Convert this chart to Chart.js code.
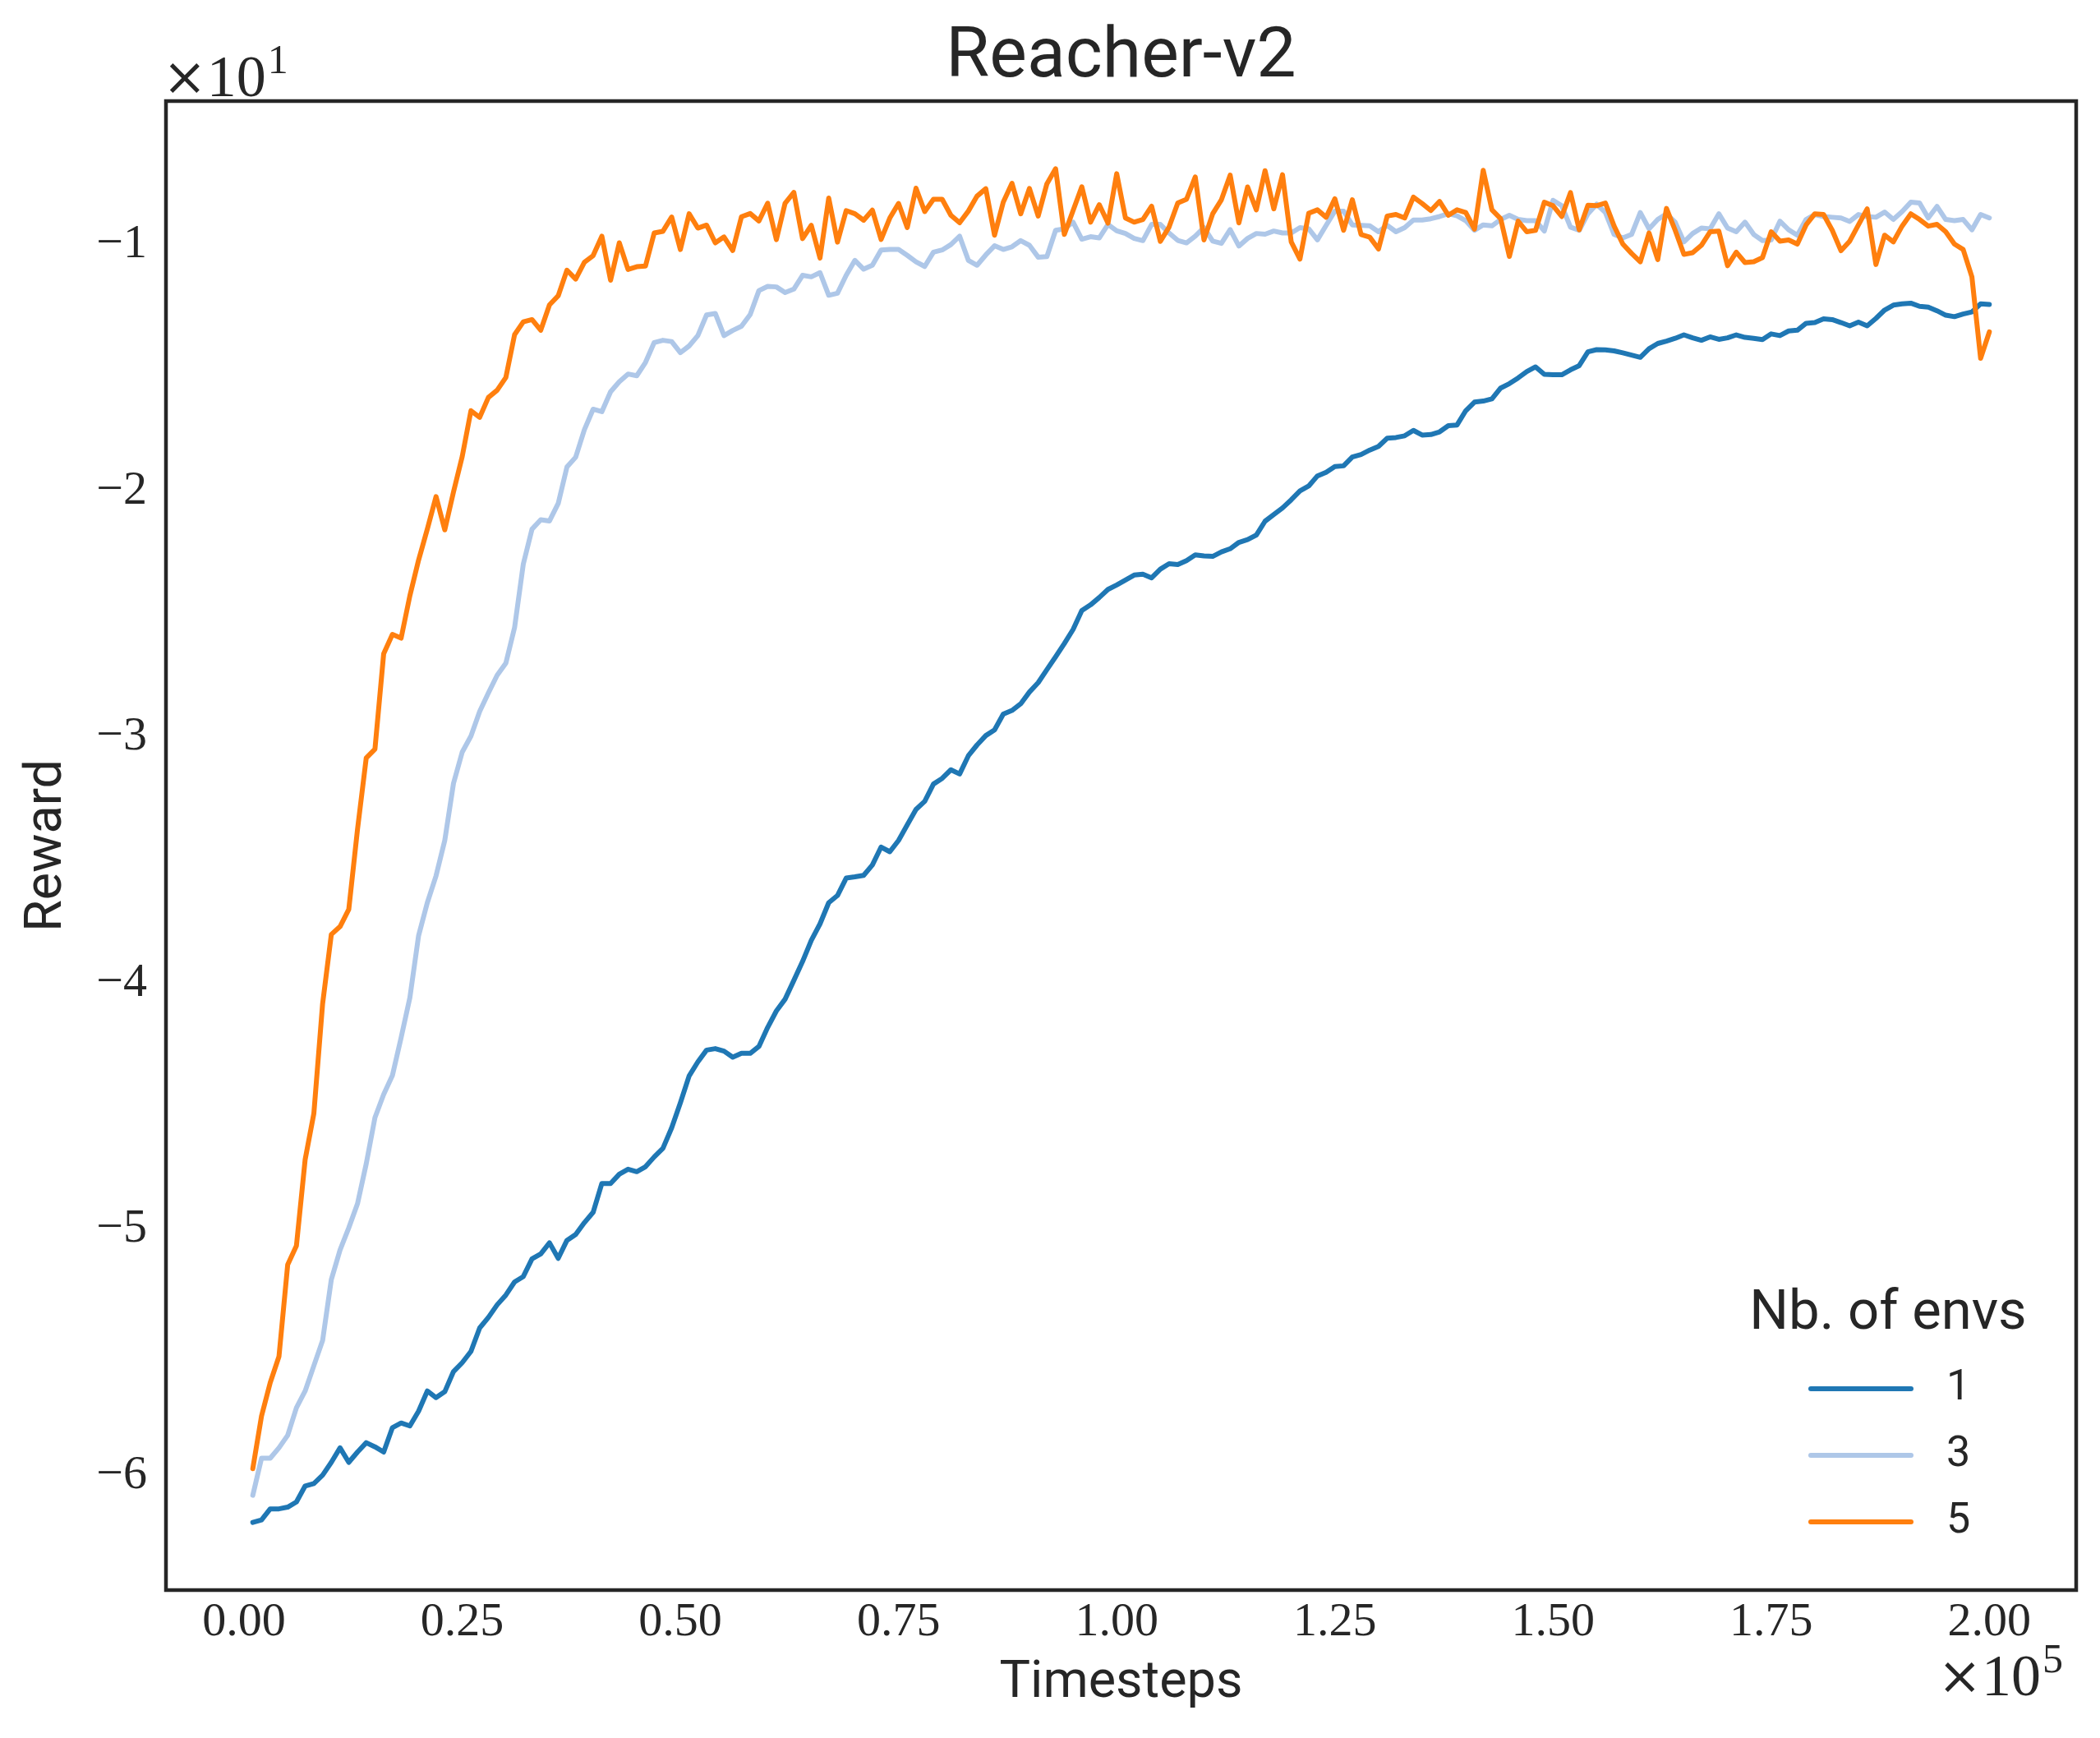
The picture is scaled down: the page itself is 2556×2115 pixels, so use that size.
<!DOCTYPE html>
<html>
<head>
<meta charset="utf-8">
<script src="https://cdn.jsdelivr.net/npm/chart.js@4.4.0/dist/chart.umd.min.js"></script>
<style>
    html, body { margin: 0; padding: 0; background: #ffffff; }
    canvas { display: block; }
</style>
</head>
<body>
<canvas id="rewardChart" width="2556" height="2115"></canvas>
<script>
// ===== DATA =====
// Reward in units of 10^1, one point every 1000 timesteps (x in units of 10^5)

const envCounts = ['1', '3', '5'];
const seriesColors = ['#1f77b4', '#aec7e8', '#ff7f0e'];

const xTickValues = [0, 0.25, 0.5, 0.75, 1.0, 1.25, 1.5, 1.75, 2.0];
const yTickValues = [-6, -5, -4, -3, -2, -1];

const reward1 = [
    -6.19, -6.18, -6.135, -6.135, -6.128, -6.107, -6.042, -6.032, -5.998, -5.946,
    -5.887, -5.946, -5.904, -5.866, -5.883, -5.904, -5.805, -5.786, -5.798, -5.738,
    -5.656, -5.683, -5.659, -5.577, -5.541, -5.495, -5.400, -5.357, -5.306, -5.266,
    -5.213, -5.191, -5.119, -5.099, -5.054, -5.117, -5.044, -5.020, -4.972, -4.930,
    -4.813, -4.813, -4.775, -4.755, -4.765, -4.745, -4.705, -4.670, -4.587, -4.485,
    -4.376, -4.319, -4.271, -4.265, -4.275, -4.300, -4.284, -4.284, -4.256, -4.179,
    -4.112, -4.064, -3.988, -3.911, -3.825, -3.758, -3.672, -3.643, -3.572, -3.567,
    -3.561, -3.519, -3.446, -3.465, -3.419, -3.356, -3.293, -3.260, -3.190, -3.167,
    -3.132, -3.149, -3.075, -3.031, -2.993, -2.970, -2.906, -2.891, -2.864, -2.816,
    -2.778, -2.725, -2.673, -2.619, -2.562, -2.485, -2.462, -2.432, -2.399, -2.381,
    -2.361, -2.341, -2.337, -2.352, -2.317, -2.295, -2.298, -2.282, -2.259, -2.263,
    -2.265, -2.247, -2.234, -2.208, -2.197, -2.178, -2.122, -2.095, -2.068, -2.035,
    -1.999, -1.979, -1.938, -1.923, -1.900, -1.897, -1.861, -1.851, -1.833, -1.818,
    -1.785, -1.782, -1.775, -1.753, -1.772, -1.770, -1.759, -1.734, -1.731, -1.673,
    -1.638, -1.634, -1.625, -1.581, -1.563, -1.540, -1.514, -1.495, -1.525, -1.527,
    -1.527, -1.507, -1.490, -1.434, -1.425, -1.426, -1.430, -1.438, -1.447, -1.456,
    -1.421, -1.400, -1.390, -1.379, -1.365, -1.377, -1.387, -1.373, -1.383, -1.377,
    -1.365, -1.375, -1.379, -1.384, -1.361, -1.368, -1.349, -1.346, -1.318, -1.315,
    -1.300, -1.303, -1.315, -1.328, -1.313, -1.328, -1.298, -1.264, -1.244, -1.239,
    -1.236, -1.249, -1.252, -1.267, -1.285, -1.291, -1.280, -1.272, -1.239, -1.241
];

const reward3 = [
    -6.080, -5.929, -5.929, -5.887, -5.836, -5.724, -5.656, -5.553, -5.451, -5.203,
    -5.083, -4.993, -4.895, -4.733, -4.545, -4.451, -4.374, -4.220, -4.058, -3.806,
    -3.672, -3.563, -3.419, -3.187, -3.060, -2.995, -2.895, -2.820, -2.748, -2.699,
    -2.554, -2.296, -2.154, -2.116, -2.121, -2.050, -1.902, -1.862, -1.750, -1.667,
    -1.677, -1.596, -1.555, -1.524, -1.531, -1.477, -1.396, -1.387, -1.392, -1.437,
    -1.410, -1.368, -1.284, -1.278, -1.368, -1.347, -1.330, -1.282, -1.185, -1.168,
    -1.170, -1.193, -1.179, -1.123, -1.129, -1.112, -1.204, -1.196, -1.123, -1.062,
    -1.098, -1.082, -1.020, -1.018, -1.018, -1.042, -1.068, -1.087, -1.029, -1.020,
    -0.998, -0.964, -1.062, -1.082, -1.040, -1.003, -1.018, -1.007, -0.982, -1.001,
    -1.049, -1.047, -0.940, -0.934, -0.907, -0.976, -0.966, -0.971, -0.916, -0.942,
    -0.953, -0.973, -0.982, -0.916, -0.916, -0.951, -0.981, -0.991, -0.964, -0.929,
    -0.984, -0.993, -0.937, -1.004, -0.973, -0.953, -0.956, -0.943, -0.951, -0.951,
    -0.929, -0.934, -0.979, -0.920, -0.862, -0.862, -0.918, -0.920, -0.922, -0.946,
    -0.920, -0.946, -0.929, -0.898, -0.898, -0.893, -0.884, -0.873, -0.881, -0.901,
    -0.940, -0.918, -0.922, -0.896, -0.879, -0.896, -0.901, -0.901, -0.943, -0.818,
    -0.840, -0.927, -0.940, -0.873, -0.834, -0.868, -0.957, -0.971, -0.957, -0.868,
    -0.934, -0.896, -0.873, -0.907, -0.987, -0.953, -0.931, -0.934, -0.873, -0.931,
    -0.946, -0.907, -0.957, -0.982, -0.979, -0.903, -0.938, -0.960, -0.896, -0.876,
    -0.884, -0.887, -0.890, -0.904, -0.876, -0.884, -0.887, -0.866, -0.896, -0.864,
    -0.826, -0.829, -0.890, -0.843, -0.896, -0.901, -0.896, -0.938, -0.876, -0.890
];

const reward5 = [
    -5.972, -5.758, -5.622, -5.516, -5.143, -5.066, -4.716, -4.528, -4.083, -3.801,
    -3.769, -3.699, -3.374, -3.084, -3.048, -2.660, -2.582, -2.597, -2.425, -2.280,
    -2.154, -2.022, -2.157, -2.003, -1.859, -1.673, -1.700, -1.619, -1.590, -1.538,
    -1.364, -1.312, -1.303, -1.346, -1.243, -1.206, -1.102, -1.138, -1.070, -1.043,
    -0.964, -1.143, -0.991, -1.099, -1.088, -1.085, -0.951, -0.944, -0.886, -1.018,
    -0.873, -0.931, -0.919, -0.991, -0.967, -1.022, -0.885, -0.872, -0.902, -0.830,
    -0.978, -0.830, -0.786, -0.974, -0.920, -1.053, -0.809, -0.988, -0.860, -0.873,
    -0.899, -0.858, -0.977, -0.890, -0.831, -0.929, -0.769, -0.864, -0.814, -0.814,
    -0.879, -0.909, -0.862, -0.801, -0.771, -0.960, -0.826, -0.749, -0.873, -0.770,
    -0.882, -0.751, -0.690, -0.957, -0.860, -0.763, -0.907, -0.836, -0.911, -0.710,
    -0.890, -0.907, -0.896, -0.842, -0.985, -0.927, -0.829, -0.814, -0.723, -0.979,
    -0.873, -0.816, -0.716, -0.910, -0.764, -0.857, -0.698, -0.853, -0.714, -0.987,
    -1.057, -0.871, -0.857, -0.887, -0.812, -0.940, -0.816, -0.957, -0.968, -1.016,
    -0.882, -0.876, -0.890, -0.805, -0.831, -0.860, -0.823, -0.879, -0.857, -0.868,
    -0.935, -0.696, -0.857, -0.893, -1.046, -0.903, -0.946, -0.940, -0.826, -0.840,
    -0.884, -0.787, -0.938, -0.838, -0.840, -0.829, -0.923, -0.996, -1.034, -1.068,
    -0.951, -1.059, -0.851, -0.940, -1.038, -1.031, -1.001, -0.946, -0.943, -1.084,
    -1.029, -1.071, -1.068, -1.051, -0.946, -0.984, -0.979, -0.996, -0.918, -0.873,
    -0.876, -0.940, -1.023, -0.984, -0.918, -0.853, -1.079, -0.960, -0.987, -0.923,
    -0.873, -0.896, -0.923, -0.916, -0.946, -0.996, -1.018, -1.129, -1.460, -1.353
];

const rewardSeries = [reward1, reward3, reward5];

// x positions: 1000 timesteps apart, expressed in units of 10^5
const timesteps = reward1.map((_, i) => (i + 1) / 100);

// ===== STYLE =====
const TEXT_COLOR = '#262626';
const SERIF = "'Liberation Serif', 'DejaVu Serif', serif";
const SANS = "Roboto, 'Noto Sans', sans-serif";

// matplotlib-like 5% margins
function paddedRange(values) {
    const lo = Math.min(...values);
    const hi = Math.max(...values);
    const pad = (hi - lo) * 0.05;
    return { min: lo - pad, max: hi + pad };
}

// "×10^n" offset text
function drawPower(ctx, x, y, exp, align) {
    const timesFont = "64px 'DejaVu Serif', serif";
    const baseFont = `72px ${SERIF}`;
    const supFont = `50px ${SERIF}`;

    ctx.font = timesFont;
    const w0 = ctx.measureText('\u00d7').width;
    ctx.font = baseFont;
    const w1 = ctx.measureText('10').width;
    ctx.font = supFont;
    const w2 = ctx.measureText(exp).width;

    const startX = align === 'left' ? x - 4 : x - w0 - w1 - w2 - 2;
    ctx.textAlign = 'left';
    ctx.textBaseline = 'alphabetic';
    ctx.font = timesFont;
    ctx.fillText('\u00d7', startX, y - 2);
    ctx.font = baseFont;
    ctx.fillText('10', startX + w0, y);
    ctx.font = supFont;
    ctx.fillText(exp, startX + w0 + w1 + 2, y - 28);
}

// Title, frame, offset texts and legend (legend inside the plot area, bottom right)
const decorPlugin = {
    id: 'decor',
    afterDraw(chart) {
        const { ctx, chartArea: a } = chart;
        ctx.save();

        ctx.strokeStyle = TEXT_COLOR;
        ctx.lineWidth = 4.5;
        ctx.strokeRect(a.left, a.top, a.right - a.left, a.bottom - a.top);

        ctx.fillStyle = TEXT_COLOR;
        ctx.font = `86px ${SANS}`;
        ctx.textAlign = 'center';
        ctx.textBaseline = 'middle';
        ctx.fillText('Reacher-v2', (a.left + a.right) / 2, a.top - 52);

        drawPower(ctx, a.left, a.top - 6, '1', 'left');
        drawPower(ctx, a.right - 16, a.bottom + 128, '5', 'right');

        // legend
        ctx.font = `67px ${SANS}`;
        ctx.textAlign = 'center';
        ctx.textBaseline = 'middle';
        ctx.fillText('Nb. of envs', a.right - 229, a.bottom - 335);

        const rowOffsets = [245, 164, 83];
        chart.data.datasets.forEach((ds, i) => {
            const y = a.bottom - rowOffsets[i];
            ctx.strokeStyle = ds.borderColor;
            ctx.lineWidth = ds.borderWidth;
            ctx.lineCap = 'round';
            ctx.beginPath();
            ctx.moveTo(a.right - 323, y);
            ctx.lineTo(a.right - 201, y);
            ctx.stroke();

            ctx.fillStyle = TEXT_COLOR;
            ctx.font = `52px ${SANS}`;
            ctx.textAlign = 'left';
            ctx.fillText(ds.label, a.right - 158, y);
        });

        ctx.restore();
    }
};

// ===== CHART =====
const RewardChart = {
    chart: null,

    render() {
        const ctx = document.getElementById('rewardChart');
        if (!ctx) return;

        if (this.chart) {
            this.chart.destroy();
        }

        const xRange = paddedRange(timesteps);
        const yRange = paddedRange([].concat(...rewardSeries));

        const datasets = rewardSeries.map((values, i) => ({
            label: envCounts[i],
            data: values.map((v, j) => ({ x: timesteps[j], y: v })),
            borderColor: seriesColors[i],
            backgroundColor: seriesColors[i],
            borderWidth: 6,
            pointRadius: 0,
            tension: 0,
            fill: false,
            borderJoinStyle: 'round',
            borderCapStyle: 'round',
            order: rewardSeries.length - i   // last series on top
        }));

        this.chart = new Chart(ctx, {
            type: 'line',
            data: { datasets: datasets },
            options: {
                responsive: false,
                devicePixelRatio: 1,
                animation: false,
                layout: {
                    padding: { left: 0, top: 123, right: 29, bottom: 0 }
                },
                plugins: {
                    legend: { display: false },
                    tooltip: { enabled: false },
                    title: { display: false }
                },
                scales: {
                    x: {
                        type: 'linear',
                        min: xRange.min,
                        max: xRange.max,
                        grid: { display: false, drawTicks: false },
                        border: { display: false },
                        afterBuildTicks: scale => {
                            scale.ticks = xTickValues.map(v => ({ value: v }));
                        },
                        afterFit: scale => { scale.height = 180; },
                        ticks: {
                            color: TEXT_COLOR,
                            font: { family: SERIF, size: 58 },
                            padding: 5,
                            maxRotation: 0,
                            autoSkip: false,
                            callback: value => Number(value).toFixed(2)
                        },
                        title: {
                            display: true,
                            text: 'Timesteps',
                            color: TEXT_COLOR,
                            font: { family: SANS, size: 63 },
                            padding: { top: 0, bottom: 28 }
                        }
                    },
                    y: {
                        type: 'linear',
                        min: yRange.min,
                        max: yRange.max,
                        grid: { display: false, drawTicks: false },
                        border: { display: false },
                        afterBuildTicks: scale => {
                            scale.ticks = yTickValues.map(v => ({ value: v }));
                        },
                        afterFit: scale => { scale.width = 202; },
                        ticks: {
                            color: TEXT_COLOR,
                            font: { family: SERIF, size: 58 },
                            padding: 23,
                            autoSkip: false,
                            callback: value => '\u2212' + Math.abs(value)
                        },
                        title: {
                            display: true,
                            text: 'Reward',
                            color: TEXT_COLOR,
                            font: { family: SANS, size: 63 },
                            padding: { top: 20, bottom: 0 }
                        }
                    }
                }
            },
            plugins: [decorPlugin]
        });
    }
};

RewardChart.render();
</script>
</body>
</html>
